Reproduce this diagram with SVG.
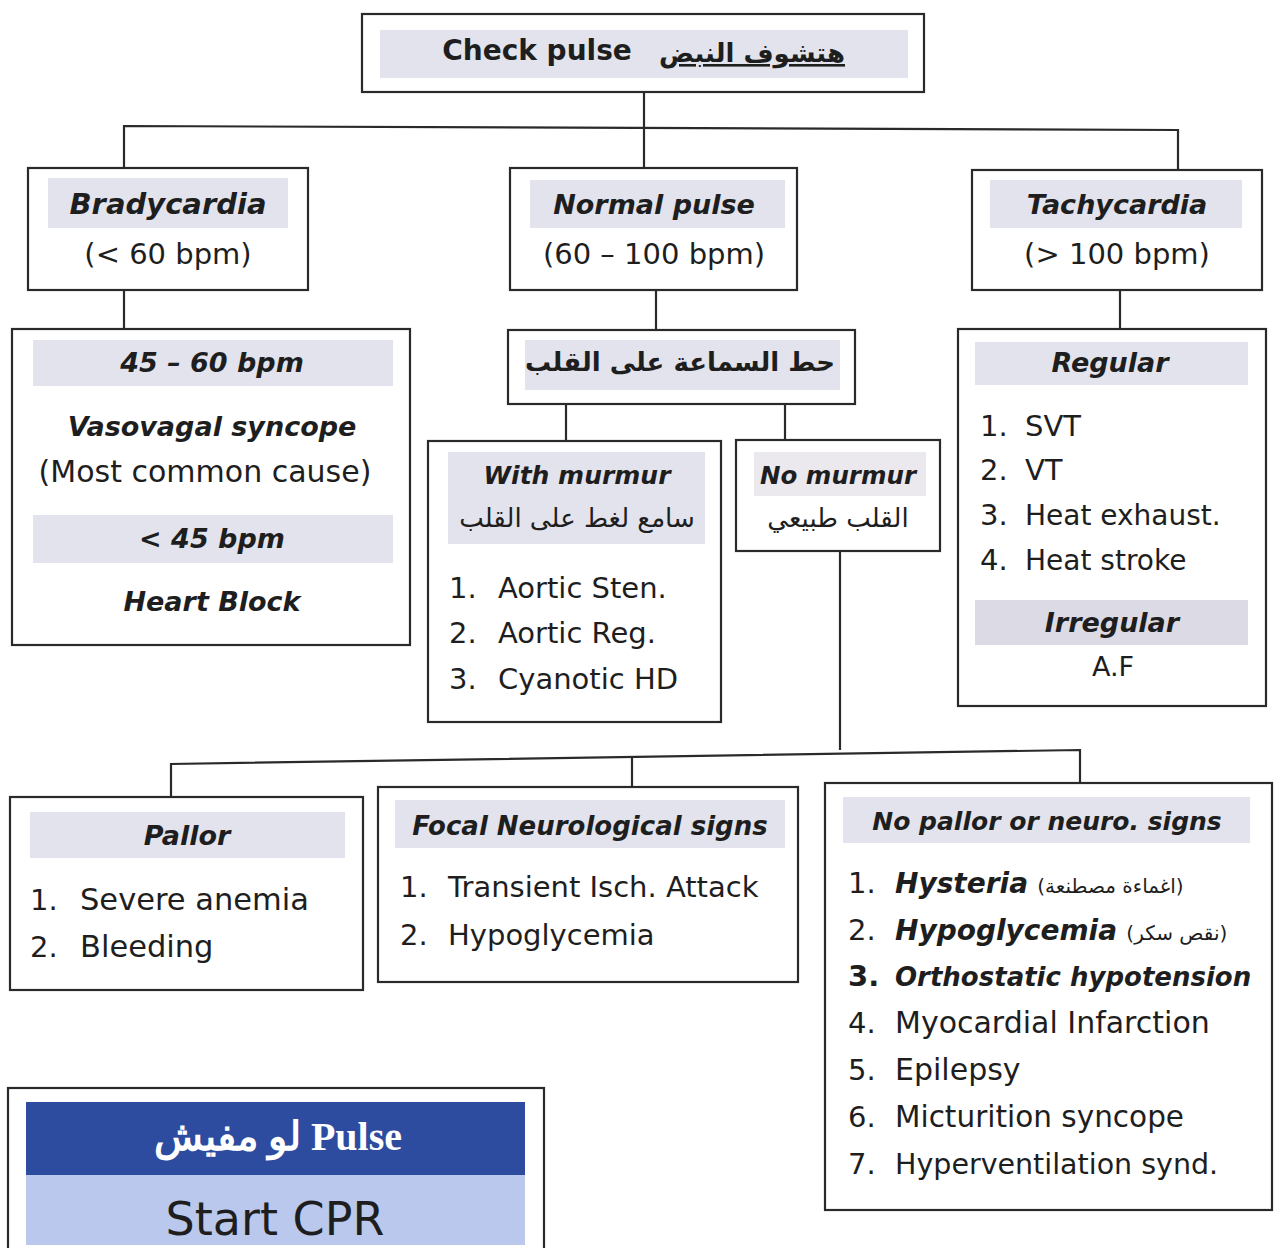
<svg xmlns="http://www.w3.org/2000/svg" width="1274" height="1248" viewBox="0 0 1274 1248">
<style>
.box{fill:#ffffff;stroke:#2a2a2a;stroke-width:2.2}
.band{fill:#e2e3ec}
.conn{fill:none;stroke:#2a2a2a;stroke-width:2.2}
text{font-family:"DejaVu Sans","Noto Sans",sans-serif;fill:#1e1e1e}
.t{font-size:27px;font-weight:bold;font-style:italic;text-anchor:middle}
.r{font-size:29px;text-anchor:middle}
.l{font-size:29px}
.ar{font-family:"DejaVu Sans","Noto Sans",sans-serif;font-size:26px;font-weight:bold;text-anchor:middle}
</style>
<rect width="1274" height="1248" fill="#ffffff"/>
<g id="connectors">
<polyline class="conn" points="644,92 644,127"/>
<polyline class="conn" points="124,168 124,126 1178,130 1178,170"/>
<polyline class="conn" points="644,127 644,168"/>
<polyline class="conn" points="124,290 124,330"/>
<polyline class="conn" points="656,290 656,330"/>
<polyline class="conn" points="1120,290 1120,330"/>
<polyline class="conn" points="566,404 566,441"/>
<polyline class="conn" points="785,404 785,440"/>
<polyline class="conn" points="840,551 840,750"/>
<polyline class="conn" points="171,797 171,764 1080,750 1080,783"/>
<polyline class="conn" points="632,757 632,787"/>
</g>
<g id="check-pulse">
<rect class="box" x="362" y="14" width="562" height="78"/>
<rect class="band" x="380" y="30" width="528" height="48"/>
<text x="537" y="60" style="font-size:28px;font-weight:bold;text-anchor:middle">Check pulse</text>
<text x="752" y="62" class="ar" style="font-size:26px;text-decoration:underline">هتشوف النبض</text>
</g>
<g id="bradycardia">
<rect class="box" x="28" y="168" width="280" height="122"/>
<rect class="band" x="48" y="178" width="240" height="50"/>
<text class="t" x="168" y="214" style="font-size:29px">Bradycardia</text>
<text class="r" x="168" y="264">(&lt; 60 bpm)</text>
</g>
<g id="normal-pulse">
<rect class="box" x="510" y="168" width="287" height="122"/>
<rect class="band" x="530" y="180" width="255" height="48"/>
<text class="t" x="654" y="214">Normal pulse</text>
<text class="r" x="654" y="264">(60 – 100 bpm)</text>
</g>
<g id="tachycardia">
<rect class="box" x="972" y="170" width="290" height="120"/>
<rect class="band" x="990" y="180" width="252" height="48"/>
<text class="t" x="1117" y="214">Tachycardia</text>
<text class="r" x="1117" y="264">(&gt; 100 bpm)</text>
</g>
<g id="brady-detail">
<rect class="box" x="12" y="329" width="398" height="316"/>
<rect class="band" x="33" y="340" width="360" height="46"/>
<text class="t" x="212" y="372">45 – 60 bpm</text>
<text class="t" x="212" y="436">Vasovagal syncope</text>
<text class="r" x="205" y="482" style="font-size:30px">(Most common cause)</text>
<rect class="band" x="33" y="515" width="360" height="48"/>
<text class="t" x="212" y="548">&lt; 45 bpm</text>
<text class="t" x="212" y="611">Heart Block</text>
</g>
<g id="stethoscope">
<rect class="box" x="508" y="330" width="347" height="74"/>
<rect class="band" x="525" y="340" width="315" height="50"/>
<text class="ar" x="680" y="371">حط السماعة على القلب</text>
</g>
<g id="with-murmur">
<rect class="box" x="428" y="441" width="293" height="281"/>
<rect class="band" x="448" y="452" width="257" height="92"/>
<text class="t" x="577" y="484" style="font-size:25px">With murmur</text>
<text class="ar" x="577" y="527" style="font-weight:normal">سامع لغط على القلب</text>
<text class="l" x="449" y="598">1.</text><text class="l" x="498" y="598">Aortic Sten.</text>
<text class="l" x="449" y="643">2.</text><text class="l" x="498" y="643">Aortic Reg.</text>
<text class="l" x="449" y="689">3.</text><text class="l" x="498" y="689">Cyanotic HD</text>
</g>
<g id="no-murmur">
<rect class="box" x="736" y="440" width="204" height="111"/>
<rect class="band" x="754" y="452" width="172" height="44" style="fill:#ebe8ee"/>
<text class="t" x="838" y="484" style="font-size:24.5px">No murmur</text>
<text class="ar" x="838" y="527" style="font-weight:normal">القلب طبيعي</text>
</g>
<g id="tachy-detail">
<rect class="box" x="958" y="329" width="308" height="377"/>
<rect class="band" x="975" y="342" width="273" height="43"/>
<text class="t" x="1110" y="372">Regular</text>
<text class="l" x="980" y="436">1.</text><text class="l" x="1025" y="436">SVT</text>
<text class="l" x="980" y="480">2.</text><text class="l" x="1025" y="480">VT</text>
<text class="l" x="980" y="525">3.</text><text class="l" x="1025" y="525" style="font-size:28px">Heat exhaust.</text>
<text class="l" x="980" y="570">4.</text><text class="l" x="1025" y="570" style="font-size:28px">Heat stroke</text>
<rect class="band" x="975" y="600" width="273" height="45" style="fill:#dcdae4"/>
<text class="t" x="1112" y="632">Irregular</text>
<text class="r" x="1113" y="676" style="font-size:27px">A.F</text>
</g>
<g id="pallor">
<rect class="box" x="10" y="797" width="353" height="193"/>
<rect class="band" x="30" y="812" width="315" height="46"/>
<text class="t" x="187" y="845">Pallor</text>
<text class="l" x="30" y="910">1.</text><text class="l" x="80" y="910" style="font-size:30.5px">Severe anemia</text>
<text class="l" x="30" y="957">2.</text><text class="l" x="80" y="957" style="font-size:30.5px">Bleeding</text>
</g>
<g id="focal">
<rect class="box" x="378" y="787" width="420" height="195"/>
<rect class="band" x="395" y="800" width="390" height="48"/>
<text class="t" x="590" y="835" style="font-size:26px">Focal Neurological signs</text>
<text class="l" x="400" y="897">1.</text><text class="l" x="448" y="897" style="font-size:29px">Transient Isch. Attack</text>
<text class="l" x="400" y="945">2.</text><text class="l" x="448" y="945" style="font-size:29px">Hypoglycemia</text>
</g>
<g id="no-pallor">
<rect class="box" x="825" y="783" width="447" height="427"/>
<rect class="band" x="843" y="797" width="407" height="46"/>
<text class="t" x="1047" y="830" style="font-size:25px">No pallor or neuro. signs</text>
<text class="l" x="848" y="893">1.</text><text class="l" x="895" y="893"><tspan font-weight="bold" font-style="italic" font-size="28">Hysteria</tspan> <tspan font-size="20">(اغماءة مصطنعة)</tspan></text>
<text class="l" x="848" y="940">2.</text><text class="l" x="895" y="940"><tspan font-weight="bold" font-style="italic" font-size="28">Hypoglycemia</tspan> <tspan font-size="20">(نقص سكر)</tspan></text>
<text class="l" x="848" y="986" font-weight="bold">3.</text><text class="l" x="895" y="986" font-weight="bold" font-style="italic" style="font-size:26px">Orthostatic hypotension</text>
<text class="l" x="848" y="1033">4.</text><text class="l" x="895" y="1033" style="font-size:30px">Myocardial Infarction</text>
<text class="l" x="848" y="1080">5.</text><text class="l" x="895" y="1080" style="font-size:30px">Epilepsy</text>
<text class="l" x="848" y="1127">6.</text><text class="l" x="895" y="1127" style="font-size:29.5px">Micturition syncope</text>
<text class="l" x="848" y="1174">7.</text><text class="l" x="895" y="1174" style="font-size:28.5px">Hyperventilation synd.</text>
</g>
<g id="start-cpr">
<rect class="box" x="8" y="1088" width="536" height="170"/>
<rect x="26" y="1102" width="499" height="73" fill="#2d4b9f"/>
<rect x="26" y="1175" width="499" height="70" fill="#b9c8ec"/>
<text x="278" y="1150" style="font-family:'Liberation Serif','DejaVu Serif',serif;font-size:40px;font-weight:bold;fill:#ffffff;text-anchor:middle">لو مفيش Pulse</text>
<text x="275" y="1235" style="font-size:46px;text-anchor:middle">Start CPR</text>
</g>
</svg>
